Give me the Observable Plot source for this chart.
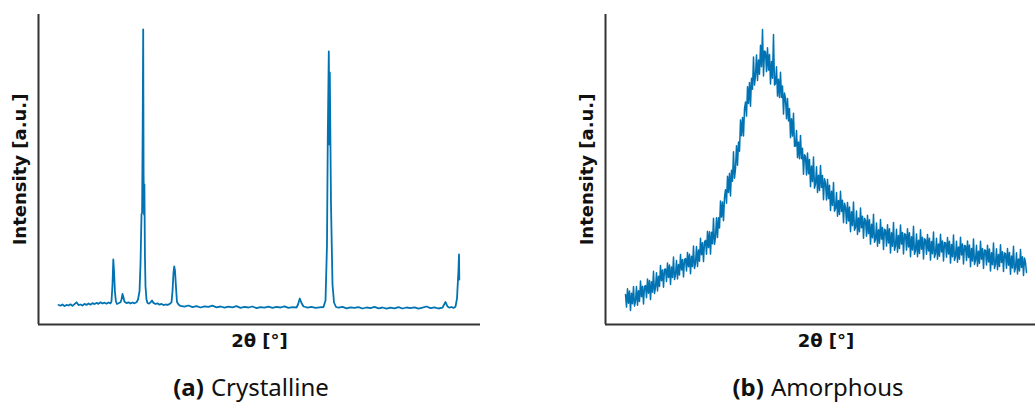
<!DOCTYPE html>
<html>
<head>
<meta charset="utf-8">
<script src="https://cdn.jsdelivr.net/npm/d3@7"></script>
<script src="https://cdn.jsdelivr.net/npm/@observablehq/plot@0.6"></script>
<style>
  html, body { margin: 0; padding: 0; background: #fff; }
  #wrap { position: relative; width: 1035px; height: 403px; overflow: hidden; background: #fff; }
  .panel { position: absolute; top: 0; height: 360px; }
  .panel svg { max-width: none !important; }
  .cap { position: absolute; top: 370px; width: 300px; text-align: center; font-family: "Noto Sans", "Open Sans", sans-serif; font-size: 24px; color: #111; white-space: nowrap; }
  .cap b { font-weight: bold; margin-right: 7px; }
</style>
</head>
<body>
<div id="wrap">
  <div class="panel" id="left" style="left:0px;width:480px"></div>
  <div class="panel" id="right" style="left:567px;width:479px"></div>
  <div class="cap" style="left:101px"><b>(a)</b>Crystalline</div>
  <div class="cap" style="left:668px"><b>(b)</b>Amorphous</div>
</div>
<script>
// ---- Data (2θ in degrees, intensity in arbitrary units) ----
const crystTheta = [
  4.0,4.4,4.8,5.2,5.6,6.0,6.4,6.8,7.2,7.6,8.0,8.4,8.8,9.2,9.6,10.0,10.4,10.8,11.2,11.6,12.0,12.4,12.8,13.2,13.6,14.0,14.4,14.6,14.8,14.96,15.12,15.28,15.48,15.7,16.0,16.4,16.6,16.8,17.0,17.2,17.6,18.0,18.4,18.8,19.2,19.6,19.9,20.2,20.4,20.6,20.72,20.84,20.94,21.02,21.1,21.18,21.28,21.4,21.6,21.8,22.1,22.4,22.7,23.0,23.4,23.8,24.2,24.6,25.0,25.4,25.8,26.2,26.6,26.8,27.0,27.14,27.3,27.5,27.7,28.0,
  28.4,29.2,30.0,30.8,31.6,32.4,33.2,34.0,34.8,35.6,36.4,37.2,38.0,38.8,39.6,40.4,41.2,42.0,42.8,43.6,44.4,45.2,46.0,46.8,47.6,48.4,49.2,50.0,50.8,51.6,51.9,52.26,52.6,53.0,53.4,
  53.8,54.6,55.4,56.2,57.0,57.4,57.7,57.86,58.06,58.2,58.26,58.5,58.8,59.1,59.5,
  60.0,60.8,61.6,62.4,63.2,64.0,64.8,65.6,66.4,67.2,68.0,68.8,69.6,70.4,71.2,72.0,72.8,73.6,74.4,75.2,76.0,76.8,77.6,78.4,79.2,80.0,80.8,81.4,81.8,82.2,82.6,83.0,83.4,83.7,84.0,84.1,84.16
];
const crystIntensity = [
  195,188,200,184,196,190,202,186,204,222,194,200,190,206,196,210,198,214,204,216,206,222,210,218,208,220,212,232,400,650,520,330,230,205,212,222,250,305,270,228,214,222,210,220,212,222,250,330,600,1100,1120,2000,2950,1500,1100,1400,700,380,250,215,208,222,240,216,205,212,198,206,194,200,196,204,222,330,520,580,540,370,225,200,
  186,178,190,174,184,170,182,176,188,172,180,168,178,172,184,166,176,170,180,164,174,168,178,166,176,170,182,166,174,170,200,260,215,180,175,
  168,176,166,172,175,240,800,1900,2730,1800,2520,1200,400,220,175,
  168,176,162,172,166,174,160,170,164,176,162,170,158,168,162,174,160,170,164,172,158,168,180,164,172,160,168,225,180,168,175,166,178,260,550,700,450
];

const amorStart = 4.0;   // first 2θ sample
const amorStep = 0.2;    // 2θ step between samples
const amorIntensity = [
  300,174,358,212,336,140,313,207,380,185,
  235,379,193,337,231,435,278,382,206,380,
  390,268,456,313,441,249,427,324,532,310,
  370,518,336,483,381,589,437,544,372,550,
  555,430,615,470,595,400,575,470,675,450,
  495,640,455,600,495,700,545,650,475,650,
  660,536,721,577,702,508,683,579,784,560,
  615,779,580,744,633,863,697,817,629,826,
  842,702,933,769,928,704,923,807,1062,802,
  870,1068,870,1068,966,1236,1074,1224,1038,1272,
  1348,1213,1482,1321,1512,1286,1542,1433,1728,1463,
  1555,1788,1592,1825,1733,2045,1888,2069,1886,2158,
  2224,2084,2378,2211,2421,2183,2463,2352,2674,2394,
  2490,2696,2440,2646,2502,2792,2578,2950,2486,2734,
  2724,2529,2767,2544,2699,2405,2630,2463,2900,2394,
  2410,2578,2284,2453,2271,2523,2271,2384,2104,2314,
  2258,2058,2261,2035,2160,1868,2058,1884,2113,1783,
  1785,1941,1669,1825,1657,1891,1658,1762,1503,1698,
  1678,1496,1716,1508,1651,1377,1585,1429,1675,1363,
  1405,1577,1320,1492,1339,1589,1371,1491,1247,1458,
  1412,1245,1450,1259,1392,1140,1333,1190,1419,1132,
  1160,1319,1082,1241,1100,1332,1131,1242,1017,1212,
  1172,1010,1221,1035,1174,928,1127,989,1224,942,
  970,1134,901,1065,928,1164,967,1083,862,1062,
  1042,882,1093,909,1048,804,1003,867,1102,822,
  850,1015,783,948,813,1049,854,971,751,952,
  942,784,998,815,957,715,917,782,1020,742,
  785,952,723,890,759,996,804,921,706,907,
  902,744,958,775,918,678,878,746,982,702,
  740,906,678,843,710,948,753,872,656,857,
  846,702,899,735,863,644,830,708,925,671,
  710,863,652,806,683,903,726,834,635,821,
  816,672,869,705,833,614,799,678,895,641,
  680,833,622,776,653,873,696,804,605,791,
  786,641,836,670,796,578,760,636,856,601,
  640,792,583,733,611,833,653,760,560,746,
  741,596,793,625,755,535,717,598,816,561,
  605,757,548,700,579,797,621,728,530,716,
  706,562,759,592,721,502,685,566,783,526,
  565,717,506,656,535,750,571,677,490,666,
  620,520
];

const yLabel = "Intensity [a.u.]";
const xLabel = "2θ [°]";
const lineColor = "#0173b2";
const axisColor = "#333333";
const labelFont = "DejaVu Sans";

const cryst = crystTheta.map((t, i) => ({theta: t, intensity: crystIntensity[i]}));
const amor = amorIntensity.map((v, i) => ({theta: amorStart + i * amorStep, intensity: v}));

function panel(data, xDomain, width, strokeWidth) {
  return Plot.plot({
    width, height: 360,
    marginLeft: 38, marginRight: 0, marginTop: 14, marginBottom: 36,
    style: {fontFamily: labelFont, background: "transparent", overflow: "visible", maxWidth: "none"},
    x: {domain: xDomain, axis: null},
    y: {domain: [0, 3100], axis: null},
    marks: [
      Plot.line(data, {x: "theta", y: "intensity", stroke: lineColor, strokeWidth, strokeLinejoin: "round"}),
      Plot.ruleX([xDomain[0]], {stroke: axisColor, strokeWidth: 2}),
      Plot.ruleY([0], {stroke: axisColor, strokeWidth: 2}),
      Plot.text([yLabel], {text: d => d, frameAnchor: "left", dx: -18, rotate: -90, textAnchor: "middle", lineAnchor: "middle", fontFamily: labelFont, fontWeight: "bold", fontSize: 18, fill: "#111"}),
      Plot.text([xLabel], {text: d => d, frameAnchor: "bottom", dy: 17, textAnchor: "middle", lineAnchor: "middle", fontFamily: labelFont, fontWeight: "bold", fontSize: 18, fill: "#111"})
    ]
  });
}

document.getElementById("left").appendChild(panel(cryst, [0, 88.4], 480, 1.8));
document.getElementById("right").appendChild(panel(amor, [0, 88.2], 479, 1.5));
</script>
</body>
</html>
